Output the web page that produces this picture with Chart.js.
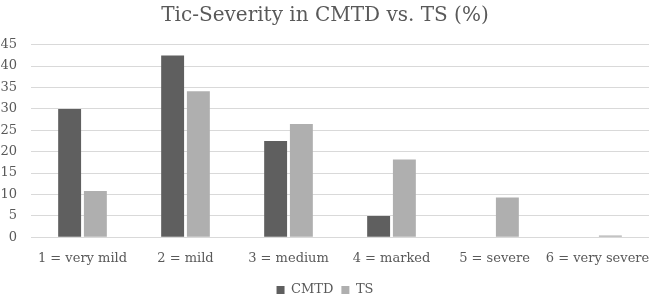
<!DOCTYPE html>
<html>
<head>
<meta charset="utf-8">
<script src="https://cdn.jsdelivr.net/npm/chart.js@4/dist/chart.umd.min.js"></script>
<style>
html,body{margin:0;padding:0;background:#fff;}
#wrap{width:649px;height:297px;position:relative;}
</style>
</head>
<body>
<div id="wrap"><canvas id="c" width="649" height="297"></canvas></div>
<script>
const categories = ["1 = very mild", "2 = mild", "3 = medium", "4 = marked", "5 = severe", "6 = very severe"];
const cmtdValues = [30.0, 42.5, 22.5, 5.0, null, null];
const tsValues = [10.8, 34.1, 26.5, 18.2, 9.3, 0.4];
const yTicks = [0, 5, 10, 15, 20, 25, 30, 35, 40, 45];

const serif = "'DejaVu Serif', 'Liberation Serif', serif";
new Chart(document.getElementById('c'), {
  type: 'bar',
  data: {
    labels: categories,
    datasets: [
      { label: 'CMTD', data: cmtdValues, backgroundColor: '#5f5f5f', categoryPercentage: 0.5, barPercentage: 0.89 },
      { label: 'TS', data: tsValues, backgroundColor: '#afafaf', categoryPercentage: 0.5, barPercentage: 0.89 }
    ]
  },
  options: {
    responsive: false,
    animation: false,
    layout: { padding: { left: 1, right: 0, top: 0, bottom: -9.5 } },
    plugins: {
      title: {
        display: true,
        text: 'Tic-Severity in CMTD vs. TS (%)',
        color: '#595959',
        font: { family: serif, size: 20, weight: 'normal' },
        padding: { top: 4, bottom: 16.7 }
      },
      legend: {
        position: 'bottom',
        labels: {
          color: '#595959',
          font: { family: serif, size: 13 },
          boxWidth: 8, boxHeight: 8, padding: 8
        }
      },
      tooltip: { enabled: false }
    },
    scales: {
      x: {
        grid: { display: false },
        border: { display: false },
        ticks: { color: '#595959', font: { family: serif, size: 13 }, maxRotation: 0, autoSkip: false, padding: 6 },
        afterFit: (scale) => { scale.paddingLeft = 0; scale.paddingRight = 0; scale.height += 2.6; }
      },
      y: {
        min: 0, max: 45,
        afterBuildTicks: (axis) => { axis.ticks = yTicks.map(v => ({ value: v })); },
        grid: { color: '#d9d9d9', lineWidth: 1, drawTicks: false },
        border: { display: false },
        ticks: { color: '#595959', font: { family: serif, size: 13 }, padding: 14 },
        afterFit: (scale) => { scale.width = 30; }
      }
    }
  }
});
</script>
</body>
</html>
